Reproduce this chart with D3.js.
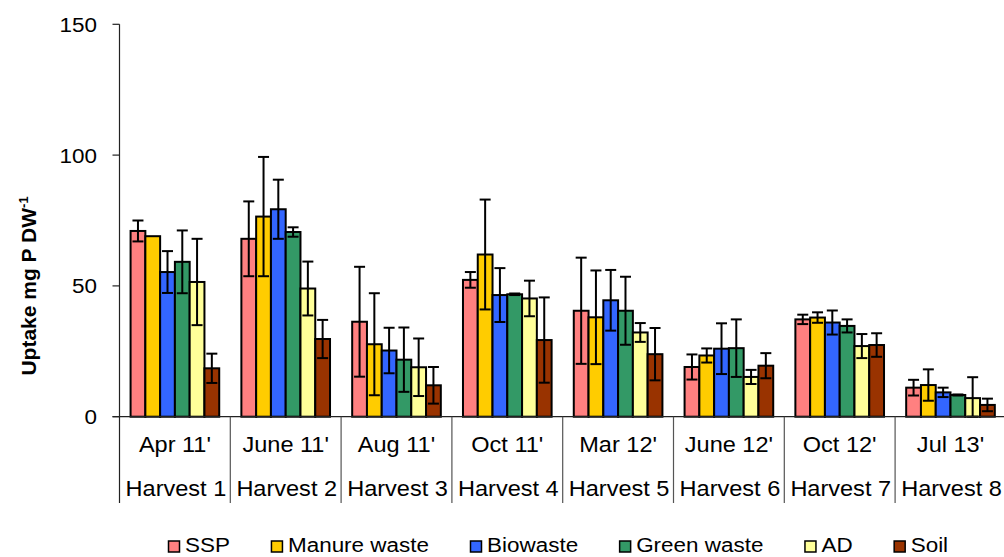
<!DOCTYPE html>
<html>
<head>
<meta charset="utf-8">
<script src="https://cdn.jsdelivr.net/npm/d3@7"></script>
<style>
  html, body { margin: 0; padding: 0; background: #fff; }
  svg { display: block; font-family: "Liberation Sans", Arial, sans-serif; }
</style>
</head>
<body>
<svg id="chart" width="1004" height="557"></svg>
<script>
// ---- Data ----
const months = ["Apr 11'", "June 11'", "Aug 11'", "Oct 11'", "Mar 12'", "June 12'", "Oct 12'", "Jul 13'"];
const harvests = ["Harvest 1", "Harvest 2", "Harvest 3", "Harvest 4", "Harvest 5", "Harvest 6", "Harvest 7", "Harvest 8"];
const seriesNames = ["SSP", "Manure waste", "Biowaste", "Green waste", "AD", "Soil"];
const seriesColors = ["#FF8080", "#FFCC00", "#3366FF", "#339966", "#FFFF99", "#993300"];

const sspValues      = [71.0, 68.0, 36.3, 52.3, 40.5, 19.0, 37.2, 11.1];
const manureValues   = [69.0, 76.5, 27.7, 62.0, 38.0, 23.4, 37.9, 12.1];
const biowasteValues = [55.3, 79.3, 25.3, 46.5, 44.5, 26.0, 36.0, 9.3];
const greenValues    = [59.2, 70.6, 21.8, 46.8, 40.5, 26.2, 34.7, 8.3];
const adValues       = [51.5, 49.0, 18.9, 45.2, 32.2, 15.2, 27.0, 7.1];
const soilValues     = [18.5, 29.7, 12.0, 29.3, 23.9, 19.5, 27.4, 4.5];

const sspErr      = [4.0, 14.3, 21.0, 3.0, 20.3, 4.8, 1.8, 3.0];
const manureErr   = [0.0, 22.8, 19.5, 21.0, 17.9, 2.7, 2.0, 6.0];
const biowasteErr = [8.0, 11.3, 8.7, 10.3, 11.6, 9.7, 4.6, 1.8];
const greenErr    = [12.0, 1.8, 12.3, 0.3, 13.0, 11.0, 2.5, 0.2];
const adErr       = [16.5, 10.3, 11.0, 6.8, 3.6, 2.7, 4.6, 8.0];
const soilErr     = [5.6, 7.3, 7.0, 16.3, 10.0, 4.8, 4.5, 2.4];

const yTicks = [0, 50, 100, 150];

const allValues = [sspValues, manureValues, biowasteValues, greenValues, adValues, soilValues];
const allErrs = [sspErr, manureErr, biowasteErr, greenErr, adErr, soilErr];

// ---- Layout ----
const svg = d3.select("#chart");
const left = 119.5, groupW = 110.8;
const x0 = d3.scaleBand().domain(months).range([left, left + groupW * months.length]).padding(0);
const x1 = d3.scaleBand().domain(seriesNames).range([x0.bandwidth() * 0.1, x0.bandwidth() * 0.9]).padding(0);
const y = d3.scaleLinear().domain([0, 150]).range([416.7, 24.3]);
const color = d3.scaleOrdinal().domain(seriesNames).range(seriesColors);
const SX = 1.07;
const FONT = 22;

function stretchedText(g, x, yy, txt, anchor, opts = {}) {
  const t = g.append("text")
    .attr("transform", `translate(${x},${yy}) scale(${SX},1)`)
    .attr("text-anchor", anchor)
    .attr("font-size", opts.size || FONT)
    .attr("fill", "#000")
    .text(txt);
  return t;
}

const data = [];
seriesNames.forEach((s, si) => {
  months.forEach((m, mi) => {
    data.push({ series: s, month: m, value: allValues[si][mi], err: allErrs[si][mi] });
  });
});

// Bars
svg.append("g").selectAll("rect").data(data).join("rect")
  .attr("x", d => x0(d.month) + x1(d.series))
  .attr("y", d => y(d.value))
  .attr("width", x1.bandwidth())
  .attr("height", d => y(0) - y(d.value))
  .attr("fill", d => color(d.series))
  .attr("stroke", "#000")
  .attr("stroke-width", 2);

// Error bars
const capHalf = 5.5;
const eg = svg.append("g").attr("stroke", "#000").attr("stroke-width", 2).attr("fill", "none");
data.filter(d => d.err > 0).forEach(d => {
  const cx = x0(d.month) + x1(d.series) + x1.bandwidth() / 2;
  const hi = y(d.value + d.err);
  const lo = y(Math.max(0, d.value - d.err));
  eg.append("line").attr("x1", cx).attr("x2", cx).attr("y1", hi).attr("y2", lo);
  eg.append("line").attr("x1", cx - capHalf).attr("x2", cx + capHalf).attr("y1", hi).attr("y2", hi);
  eg.append("line").attr("x1", cx - capHalf).attr("x2", cx + capHalf).attr("y1", lo).attr("y2", lo);
});

// Y axis
const yAxis = svg.append("g");
yAxis.append("line").attr("x1", left).attr("x2", left).attr("y1", y(150)).attr("y2", 503)
  .attr("stroke", "#222").attr("stroke-width", 1.2);
yTicks.forEach(t => {
  yAxis.append("line").attr("x1", left - 7).attr("x2", left).attr("y1", y(t)).attr("y2", y(t))
    .attr("stroke", "#222").attr("stroke-width", 1.2);
  stretchedText(yAxis, 97, y(t) + 7.5, String(t), "end", { size: 21 });
});

// X axis
const xAxis = svg.append("g");
xAxis.append("line").attr("x1", left - 7).attr("x2", 1004).attr("y1", y(0)).attr("y2", y(0))
  .attr("stroke", "#222").attr("stroke-width", 1.2);
months.forEach((m, i) => {
  const gx = x0(m);
  if (i > 0) {
    xAxis.append("line").attr("x1", gx).attr("x2", gx).attr("y1", y(0)).attr("y2", 503)
      .attr("stroke", "#555").attr("stroke-width", 1.2);
  }
  const cx = gx + x0.bandwidth() / 2;
  stretchedText(xAxis, cx, 452, m, "middle");
  stretchedText(xAxis, cx + 1, 496, harvests[i], "middle");
});

// Y title
const yt = svg.append("text")
  .attr("transform", "translate(35.5,286) rotate(-90)")
  .attr("text-anchor", "middle")
  .attr("font-size", 21)
  .attr("font-weight", "bold")
  .attr("fill", "#000");
yt.append("tspan").text("Uptake mg P DW");
yt.append("tspan").attr("font-size", 13).attr("dy", -8).text("-1");

// Legend
const lg = svg.append("g");
let lx = 168;
seriesNames.forEach((s, i) => {
  lg.append("rect").attr("x", lx + 0.5).attr("y", 541).attr("width", 11).attr("height", 11)
    .attr("fill", color(s)).attr("stroke", "#000").attr("stroke-width", 1.5);
  const t = stretchedText(lg, lx + 17, 552, s, "start", { size: 21 });
  const w = t.node().getComputedTextLength() * SX;
  lx += 17 + w + 41;
});
</script>
</body>
</html>
